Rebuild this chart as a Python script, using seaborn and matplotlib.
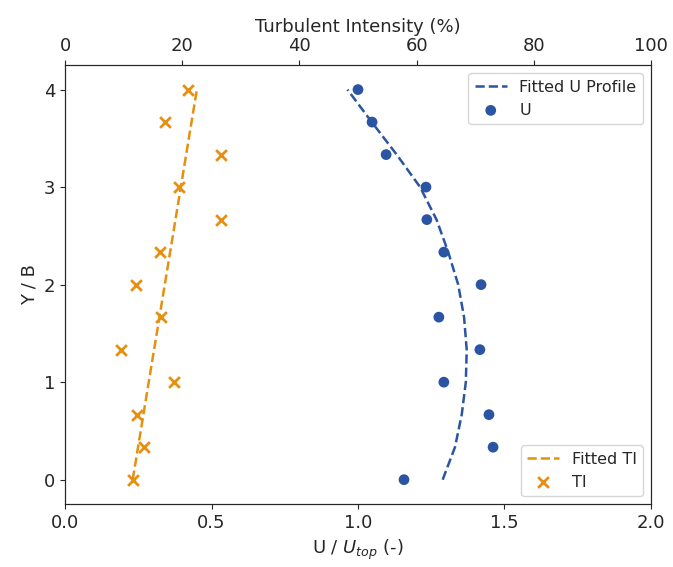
import numpy as np
import pandas as pd
import matplotlib
matplotlib.use("Agg")
import matplotlib.pyplot as plt
import seaborn as sns

# Heights (Y / B)
y_pos = [0, 1/3, 2/3, 1, 4/3, 5/3, 2, 7/3, 8/3, 3, 10/3, 11/3, 4]

# Measured velocity U / U_top
u_vals = [1.157, 1.461, 1.447, 1.293, 1.416, 1.276, 1.42, 1.293, 1.235, 1.232, 1.096, 1.048, 1.00]

# Measured turbulent intensity (%)
ti_vals = [11.6, 13.5, 12.2, 18.6, 9.6, 16.3, 12.1, 16.2, 26.7, 19.5, 26.7, 17.1, 21.0]

# Fitted U profile
fit_u_y = [0, 1/3, 2/3, 1, 4/3, 5/3, 2, 7/3, 8/3, 3, 10/3, 11/3, 4]
fit_u_x = [1.289, 1.331, 1.354, 1.368, 1.371, 1.362, 1.342, 1.308, 1.268, 1.212, 1.132, 1.047, 0.964]

# Fitted TI line (end points)
fit_ti_y = [0, 4]
fit_ti_x = [11.55, 22.5]

blue = "#2b54a3"
orange = "#e68f10"

sns.set_style("ticks")
plt.rcParams['font.family'] = ['DejaVu Sans']

fig = plt.figure(figsize=(6.73, 5.67), dpi=100)
ax = fig.add_axes([0.0966, 0.111, 0.8707, 0.774])

sns.lineplot(x=fit_u_x, y=fit_u_y, sort=False, estimator=None, ax=ax,
             color=blue, linestyle="--", linewidth=1.8, label="Fitted U Profile")
sns.scatterplot(x=u_vals, y=y_pos, ax=ax, color=blue, s=60, edgecolor="none",
                label="U")
ax.set_xlim(0, 2.0)
ax.set_ylim(-0.25, 4.25)
ax.set_xticks([0.0, 0.5, 1.0, 1.5, 2.0])
ax.set_yticks([0, 1, 2, 3, 4])
ax.set_xlabel("U / $U_{top}$ (-)", fontsize=13)
ax.set_ylabel("Y / B", fontsize=13)
ax.tick_params(labelsize=13)
ax.legend(loc="upper right", fontsize=11.5)

ax2 = ax.twiny()
sns.lineplot(x=fit_ti_x, y=fit_ti_y, sort=False, estimator=None, ax=ax2,
             color=orange, linestyle="--", linewidth=1.8, label="Fitted TI")
sns.scatterplot(x=ti_vals, y=y_pos, ax=ax2, color=orange, marker="x", s=60,
                linewidth=2, label="TI")
ax2.set_xlim(0, 100)
ax2.set_xticks([0, 20, 40, 60, 80, 100])
ax2.set_xlabel("Turbulent Intensity (%)", fontsize=13)
ax2.tick_params(labelsize=13)
ax2.legend(loc="lower right", fontsize=11.5)

fig.savefig("out.png", dpi=100)
